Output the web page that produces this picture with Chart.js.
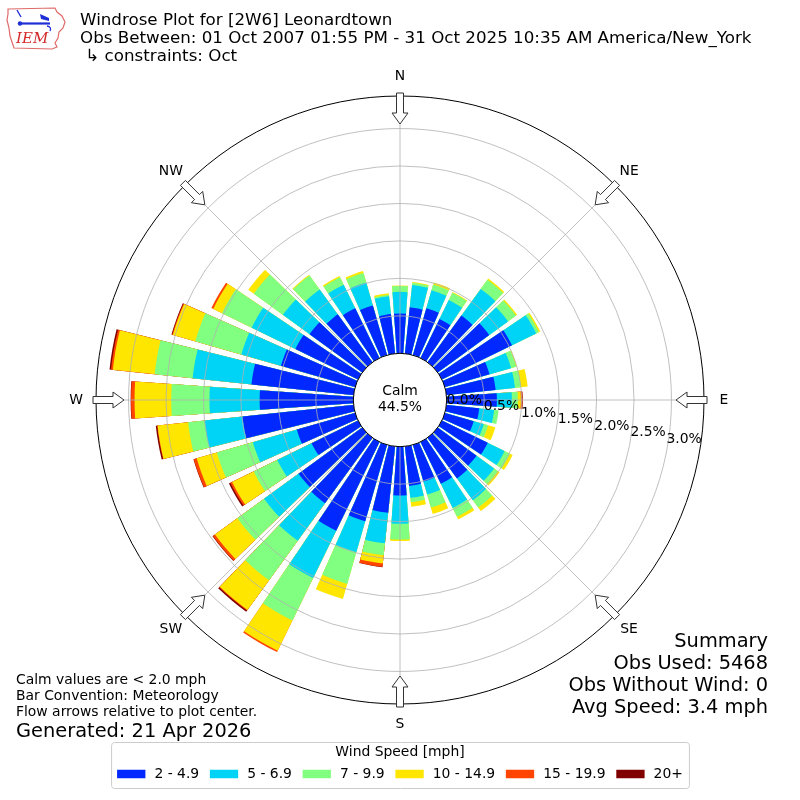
<!DOCTYPE html>
<html>
<head>
<meta charset="utf-8">
<title>Windrose Plot for [2W6] Leonardtown</title>
<script src="https://cdn.jsdelivr.net/npm/chart.js@4.4.1/dist/chart.umd.min.js"></script>
<style>
  html, body { margin: 0; padding: 0; background: #fff; }
  #wrap { position: relative; width: 800px; height: 800px; overflow: hidden;
          font-family: 'DejaVu Sans', sans-serif; color: #000; }
  #rose { position: absolute; left: 0; top: 0; }
  .txt { position: absolute; white-space: pre; line-height: 1; }
  .right { text-align: right; right: 32px; }
</style>
</head>
<body>
<div id="wrap">
  <canvas id="rose" width="800" height="800"></canvas>

  <svg style="position:absolute;left:0;top:0" width="70" height="55" viewBox="0 0 70 55">
    <path d="M8 9 L55 8 L57 12 L62 16 L65 22 L63 28 L59 32 L58 38 L55 43 L57 47 L52 49 L14 48 L12 42 L10 36 L9 28 L7 20 L8 14 Z"
          fill="none" stroke="#e06a6a" stroke-width="1.2"/>
    <line x1="20" y1="23.5" x2="50" y2="23.5" stroke="#1f2fd6" stroke-width="2.2"/>
    <line x1="17" y1="10" x2="21" y2="17" stroke="#1f2fd6" stroke-width="1.4"/>
    <circle cx="20" cy="23.5" r="2.2" fill="#1f2fd6"/>
    <path d="M40 14 L49 18 L49 21 L41 19 Z" fill="#1f2fd6"/>
    <path d="M47 26 Q52 27 50 31" fill="none" stroke="#1f2fd6" stroke-width="1.3"/>
    <text x="16" y="43" font-family="'DejaVu Serif', serif" font-style="italic" font-size="15" fill="#d42a2a">IEM</text>
  </svg>

  <div class="txt" style="left:80px; top:10.9px; font-size:16.7px">Windrose Plot for [2W6] Leonardtown</div>
  <div class="txt" style="left:80px; top:29.2px; font-size:16.7px">Obs Between: 01 Oct 2007 01:55 PM - 31 Oct 2025 10:35 AM America/New_York</div>
  <div class="txt" style="left:80px; top:46.9px; font-size:16.7px"> ↳ constraints: Oct</div>

  <div class="txt" style="left:16px; top:673.3px; font-size:13.9px">Calm values are &lt; 2.0 mph</div>
  <div class="txt" style="left:16px; top:689.3px; font-size:13.9px">Bar Convention: Meteorology</div>
  <div class="txt" style="left:16px; top:705.3px; font-size:13.9px">Flow arrows relative to plot center.</div>
  <div class="txt" style="left:16px; top:720.7px; font-size:19.4px">Generated: 21 Apr 2026</div>

  <div class="txt right" style="top:630.7px; font-size:19.4px">Summary</div>
  <div class="txt right" style="top:652.7px; font-size:19.4px">Obs Used: 5468</div>
  <div class="txt right" style="top:674.7px; font-size:19.4px">Obs Without Wind: 0</div>
  <div class="txt right" style="top:696.7px; font-size:19.4px">Avg Speed: 3.4 mph</div>
</div>

<script>
// wind directions (bar centres, degrees clockwise from north)
const directions = [0, 10, 20, 30, 40, 50, 60, 70, 80, 90, 100, 110, 120, 130, 140, 150, 160, 170,
                    180, 190, 200, 210, 220, 230, 240, 250, 260, 270, 280, 290, 300, 310, 320, 330, 340, 350];
const speedBins = ['2 - 4.9', '5 - 6.9', '7 - 9.9', '10 - 14.9', '15 - 19.9', '20+'];
const binColors = ['#0028ff', '#00d4f6', '#80ff80', '#ffe600', '#ff4500', '#800000'];

// percent of observations per direction and speed bin
const pct2to5 = [0.53, 0.62, 0.65, 0.58, 0.77, 0.85, 1.04, 0.62, 0.66, 0.67, 0.44, 0.40, 0.68, 0.64, 0.67, 0.62, 0.51, 0.53,
                 0.65, 0.89, 1.06, 1.32, 1.08, 1.05, 0.69, 0.81, 1.49, 1.25, 1.37, 1.03, 0.93, 0.87, 0.79, 0.74, 0.69, 0.53];
const pct5to7 = [0.29, 0.30, 0.25, 0.28, 0.44, 0.31, 0.36, 0.30, 0.26, 0.20, 0.20, 0.14, 0.25, 0.29, 0.36, 0.36, 0.18, 0.16,
                 0.38, 0.41, 0.43, 0.70, 0.62, 0.57, 0.51, 0.61, 0.51, 0.67, 0.79, 0.55, 0.65, 0.44, 0.41, 0.35, 0.32, 0.24];
const pct7to10 = [0.08, 0.03, 0.08, 0.11, 0.15, 0.13, 0.04, 0.07, 0.08, 0.08, 0.06, 0.06, 0.08, 0.06, 0.12, 0.13, 0.18, 0.06,
                  0.21, 0.16, 0.44, 0.63, 0.65, 0.44, 0.35, 0.50, 0.22, 0.51, 0.51, 0.64, 0.44, 0.48, 0.23, 0.11, 0.13, 0.02];
const pct10to15 = [0.005, 0.01, 0.03, 0.01, 0.02, 0.02, 0.02, 0.01, 0.09, 0.04, 0, 0.10, 0.04, 0.03, 0.06, 0.04, 0.09, 0.06,
                   0.02, 0.11, 0.21, 0.45, 0.49, 0.37, 0.32, 0.28, 0.41, 0.49, 0.56, 0.31, 0.13, 0.09, 0.013, 0.02, 0.027, 0.02];
const pct15to20 = [0, 0, 0, 0, 0, 0, 0, 0, 0, 0.02, 0, 0, 0, 0, 0, 0, 0, 0,
                   0, 0.045, 0, 0.02, 0.01, 0.033, 0.027, 0.04, 0.005, 0.047, 0.025, 0.01, 0.027, 0, 0, 0, 0, 0];
const pct20plus = [0, 0, 0, 0, 0, 0, 0, 0, 0, 0.005, 0, 0, 0, 0, 0, 0, 0, 0,
                   0, 0.005, 0, 0, 0.02, 0.007, 0.02, 0.005, 0.019, 0.005, 0.02, 0.01, 0, 0, 0, 0, 0, 0];

const ringTicks = [0, 0.5, 1.0, 1.5, 2.0, 2.5, 3.0];
const compassLabels = ['N', 'NE', 'E', 'SE', 'S', 'SW', 'W', 'NW'];
const calmPct = 44.5;
// radial axis limits (the calm circle sits below zero)
const axisMin = -0.623;
const axisMax = 3.434;

const BAR_DEG = 8;
const GAP_DEG = 10 - BAR_DEG;
const FONT = '"DejaVu Sans", sans-serif';

// stacked totals, each bar followed by an empty gap slot
const speedSeries = [pct2to5, pct5to7, pct7to10, pct10to15, pct15to20, pct20plus];
let running = directions.map(() => 0);
const datasets = speedSeries.map((series, k) => {
  running = running.map((v, i) => v + series[i]);
  const cum = running.slice();
  return {
    label: speedBins[k],
    data: cum.flatMap((v, i) => [series[i] > 0 ? v : 0, 0]),
    backgroundColor: c => (c.dataIndex % 2 === 0 ? binColors[k] : 'rgba(0,0,0,0)'),
    borderWidth: 0,
    angle: c => (c.dataIndex % 2 === 0 ? BAR_DEG : GAP_DEG)
  };
});
const slotLabels = directions.flatMap(d => [d + '°', '']);

const roseDecor = {
  id: 'roseDecor',
  afterDatasetsDraw(chart) {
    const ctx = chart.ctx;
    const s = chart.scales.r;
    const cx = s.xCenter, cy = s.yCenter;
    const rOf = v => s.getDistanceFromCenterForValue(v);
    const r0 = rOf(0);
    const rOut = s.drawingArea;
    const pt = (deg, r, off) => {
      const a = deg * Math.PI / 180;
      return [cx + r * Math.sin(a) + (off || 0) * Math.cos(a),
              cy - r * Math.cos(a) + (off || 0) * Math.sin(a)];
    };
    ctx.save();

    // grid rings and spokes
    ctx.strokeStyle = '#b0b0b0';
    ctx.lineWidth = 0.8;
    ringTicks.slice(1).forEach(v => {
      ctx.beginPath();
      ctx.arc(cx, cy, rOf(v), 0, 2 * Math.PI);
      ctx.stroke();
    });
    compassLabels.forEach((lab, i) => {
      const p1 = pt(i * 45, r0), p2 = pt(i * 45, rOut);
      ctx.beginPath();
      ctx.moveTo(p1[0], p1[1]);
      ctx.lineTo(p2[0], p2[1]);
      ctx.stroke();
    });

    // outer frame
    ctx.strokeStyle = '#000';
    ctx.lineWidth = 1;
    ctx.beginPath();
    ctx.arc(cx, cy, rOut, 0, 2 * Math.PI);
    ctx.stroke();

    // calm circle
    ctx.fillStyle = '#fff';
    ctx.beginPath();
    ctx.arc(cx, cy, r0, 0, 2 * Math.PI);
    ctx.fill();
    ctx.stroke();
    ctx.fillStyle = '#000';
    ctx.font = '13.9px ' + FONT;
    ctx.textAlign = 'center';
    ctx.textBaseline = 'middle';
    ctx.fillText('Calm', cx, cy - 9);
    ctx.fillText(calmPct.toFixed(1) + '%', cx, cy + 7);

    // ring labels
    ringTicks.forEach(v => {
      ctx.fillText(v.toFixed(1) + '%', cx + rOf(v) + 17.5 - 0.55 * v * v, cy + 13 * v);
    });

    // flow arrows and compass labels
    const tail = rOut + 3, tip = rOut - 28, head = rOut - 17;
    compassLabels.forEach((lab, i) => {
      const d = i * 45;
      const shape = [[tail, -3.5], [head, -3.5], [head, -8], [tip, 0], [head, 8], [head, 3.5], [tail, 3.5]];
      ctx.beginPath();
      shape.forEach((q, j) => {
        const p = pt(d, q[0], q[1]);
        if (j === 0) ctx.moveTo(p[0], p[1]); else ctx.lineTo(p[0], p[1]);
      });
      ctx.closePath();
      ctx.fillStyle = '#fff';
      ctx.fill();
      ctx.strokeStyle = '#333';
      ctx.lineWidth = 1;
      ctx.stroke();
      const lp = pt(d, rOut + 20);
      ctx.fillStyle = '#000';
      ctx.fillText(lab, lp[0], lp[1]);
    });
    ctx.restore();
  },
  afterDraw(chart) {
    // legend
    const ctx = chart.ctx;
    ctx.save();
    ctx.font = '13.9px ' + FONT;
    const patchW = 28.3, patchH = 8.5, textPad = 9, colGap = 10.7;
    const widths = speedBins.map(t => ctx.measureText(t).width);
    const total = widths.reduce((a, w) => a + w, 0) + speedBins.length * (patchW + textPad) + (speedBins.length - 1) * colGap;
    let x = chart.width / 2 - total / 2;
    const boxL = x - 6, boxW = total + 12, boxT = 742, boxH = 46;
    ctx.beginPath();
    ctx.roundRect(boxL + 0.5, boxT + 0.5, boxW, boxH, 3);
    ctx.fillStyle = 'rgba(255,255,255,0.8)';
    ctx.fill();
    ctx.strokeStyle = '#cccccc';
    ctx.lineWidth = 1;
    ctx.stroke();
    ctx.fillStyle = '#000';
    ctx.textAlign = 'center';
    ctx.textBaseline = 'middle';
    ctx.fillText('Wind Speed [mph]', chart.width / 2, 752);
    ctx.textAlign = 'left';
    const rowY = 774;
    chart.data.datasets.forEach((ds, k) => {
      ctx.fillStyle = binColors[k];
      ctx.fillRect(x, rowY - patchH / 2, patchW, patchH);
      ctx.fillStyle = '#000';
      ctx.fillText(ds.label, x + patchW + textPad, rowY);
      x += patchW + textPad + widths[k] + colGap;
    });
    ctx.restore();
  }
};

new Chart(document.getElementById('rose'), {
  type: 'polarArea',
  data: { labels: slotLabels, datasets: datasets },
  options: {
    responsive: false,
    animation: false,
    events: [],
    layout: { padding: 96 },
    plugins: { legend: { display: false }, tooltip: { enabled: false } },
    scales: {
      r: {
        min: axisMin,
        max: axisMax,
        startAngle: -BAR_DEG / 2,
        ticks: { display: false },
        grid: { display: false },
        angleLines: { display: false },
        pointLabels: { display: false }
      }
    }
  },
  plugins: [roseDecor]
});
</script>
</body>
</html>
